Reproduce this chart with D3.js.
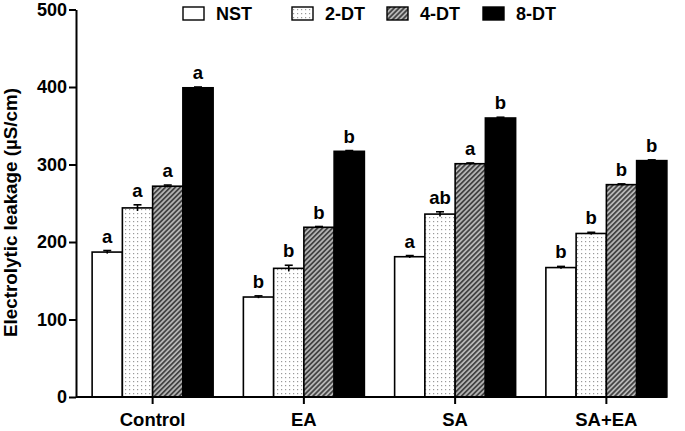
<!DOCTYPE html>
<html>
<head>
<meta charset="utf-8">
<script src="https://cdn.jsdelivr.net/npm/d3@7"></script>
<style>
  body { margin: 0; background: #fff; }
  text { font-family: "Liberation Sans", Arial, sans-serif; font-weight: bold; }
</style>
</head>
<body>
<div id="graf"></div>
<script>
// datos
grupos = ['Control', 'EA', 'SA', 'SA+EA']
series = ['NST', '2-DT', '4-DT', '8-DT']
valNST = [187, 129, 181, 167]
val2DT = [244, 166, 236, 211]
val4DT = [272, 219, 301, 274]
val8DT = [399, 317, 360, 305]
errNST = [2, 1.5, 1.5, 1.5]
err2DT = [4, 4, 3, 1.5]
err4DT = [1.5, 1, 1, 1]
err8DT = [1, 1, 1, 1]
letNST = ['a', 'b', 'a', 'b']
let2DT = ['a', 'b', 'ab', 'b']
let4DT = ['a', 'b', 'a', 'b']
let8DT = ['a', 'b', 'b', 'b']
ticksY = [0, 100, 200, 300, 400, 500]

valores = [valNST, val2DT, val4DT, val8DT]
errores = [errNST, err2DT, err4DT, err8DT]
letras = [letNST, let2DT, let4DT, let8DT]

ancho_total = 685
alto_total = 431

svg = d3.select('#graf').append('svg')
        .attr('width', ancho_total)
        .attr('height', alto_total)

// patrones de relleno
defs = svg.append('defs')
punt = defs.append('pattern')
           .attr('id', 'punteado')
           .attr('patternUnits', 'userSpaceOnUse')
           .attr('width', 4).attr('height', 4)
punt.append('rect').attr('width', 4).attr('height', 4).attr('fill', '#fff')
punt.append('rect').attr('x', 1).attr('y', 1).attr('width', 1.2).attr('height', 1.2).attr('fill', '#999')

ray = defs.append('pattern')
          .attr('id', 'rayado')
          .attr('patternUnits', 'userSpaceOnUse')
          .attr('width', 3.5).attr('height', 3.5)
          .attr('patternTransform', 'rotate(45)')
ray.append('rect').attr('width', 3.5).attr('height', 3.5).attr('fill', '#b8b8b8')
ray.append('line').attr('x1', 0.9).attr('x2', 0.9).attr('y1', 0).attr('y2', 3.5)
   .attr('stroke', '#444').attr('stroke-width', 1.8)

rellenos = ['#fff', 'url(#punteado)', 'url(#rayado)', '#000']

// escalas
x = d3.scaleBand()
      .domain(grupos)
      .range([77, 682])
      .paddingInner(0.2)
      .paddingOuter(0.1)
xs = d3.scaleBand()
       .domain(series)
       .range([0, x.bandwidth()])
y = d3.scaleLinear()
      .domain([0, 500])
      .range([397, 9.5])

// barras
datos = []
series.forEach((s, i) => {
  grupos.forEach((g, j) => {
    datos.push({ g: g, s: s, i: i, v: valores[i][j], e: errores[i][j], l: letras[i][j] })
  })
})

barras = svg.append('g')
barras.selectAll('rect')
      .data(datos)
      .enter()
      .append('rect')
      .attr('x', d => x(d.g) + xs(d.s))
      .attr('y', d => y(d.v))
      .attr('width', xs.bandwidth())
      .attr('height', d => y(0) - y(d.v))
      .attr('fill', d => rellenos[d.i])
      .attr('stroke', '#000')
      .attr('stroke-width', 1.6)

// barras de error
errG = svg.append('g').attr('stroke', '#000').attr('stroke-width', 1.6)
datos.forEach(d => {
  cx = x(d.g) + xs(d.s) + xs.bandwidth() / 2
  errG.append('line').attr('x1', cx).attr('x2', cx).attr('y1', y(d.v + d.e)).attr('y2', y(d.v - d.e))
  errG.append('line').attr('x1', cx - 4).attr('x2', cx + 4).attr('y1', y(d.v + d.e)).attr('y2', y(d.v + d.e))
})

// letras
svg.append('g').selectAll('text')
   .data(datos)
   .enter()
   .append('text')
   .attr('x', d => x(d.g) + xs(d.s) + xs.bandwidth() / 2)
   .attr('y', d => y(d.v + d.e) - 8)
   .attr('text-anchor', 'middle')
   .style('font-size', '18.5px')
   .text(d => d.l)

// eje Y
yAxisGroup = svg.append('g')
                .attr('transform', 'translate(76, 0)')
                .call(d3.axisLeft(y).tickValues(ticksY).tickSize(7).tickPadding(2).tickSizeOuter(0))
yAxisGroup.selectAll('path, line').attr('stroke', '#000').attr('stroke-width', 2)
yAxisGroup.selectAll('text').style('font-size', '18px').attr('fill', '#000').attr('font-family', null)

// eje X
xAxisGroup = svg.append('g')
                .attr('transform', 'translate(0, 397)')
                .call(d3.axisBottom(x).tickSize(7).tickPadding(9).tickSizeOuter(0))
xAxisGroup.select('.domain')
          .attr('d', `M76,0H${x(grupos[3]) + x.bandwidth()}`)
xAxisGroup.selectAll('path, line').attr('stroke', '#000').attr('stroke-width', 2)
xAxisGroup.selectAll('text').style('font-size', '18.5px').attr('fill', '#000').attr('font-family', null)

// titulo eje Y
svg.append('text')
   .attr('transform', 'translate(17, 212.5) rotate(-90)')
   .attr('text-anchor', 'middle')
   .style('font-size', '18.8px')
   .text('Electrolytic leakage (µS/cm)')

// leyenda
legX = [183, 292, 387, 483]
leyenda = svg.append('g')
series.forEach((s, i) => {
  leyenda.append('rect')
         .attr('x', legX[i]).attr('y', 7)
         .attr('width', 21).attr('height', 13)
         .attr('fill', rellenos[i])
         .attr('stroke', '#000').attr('stroke-width', 1.4)
  leyenda.append('text')
         .attr('x', legX[i] + 33).attr('y', 20)
         .style('font-size', '18px')
         .text(s)
})
</script>
</body>
</html>
